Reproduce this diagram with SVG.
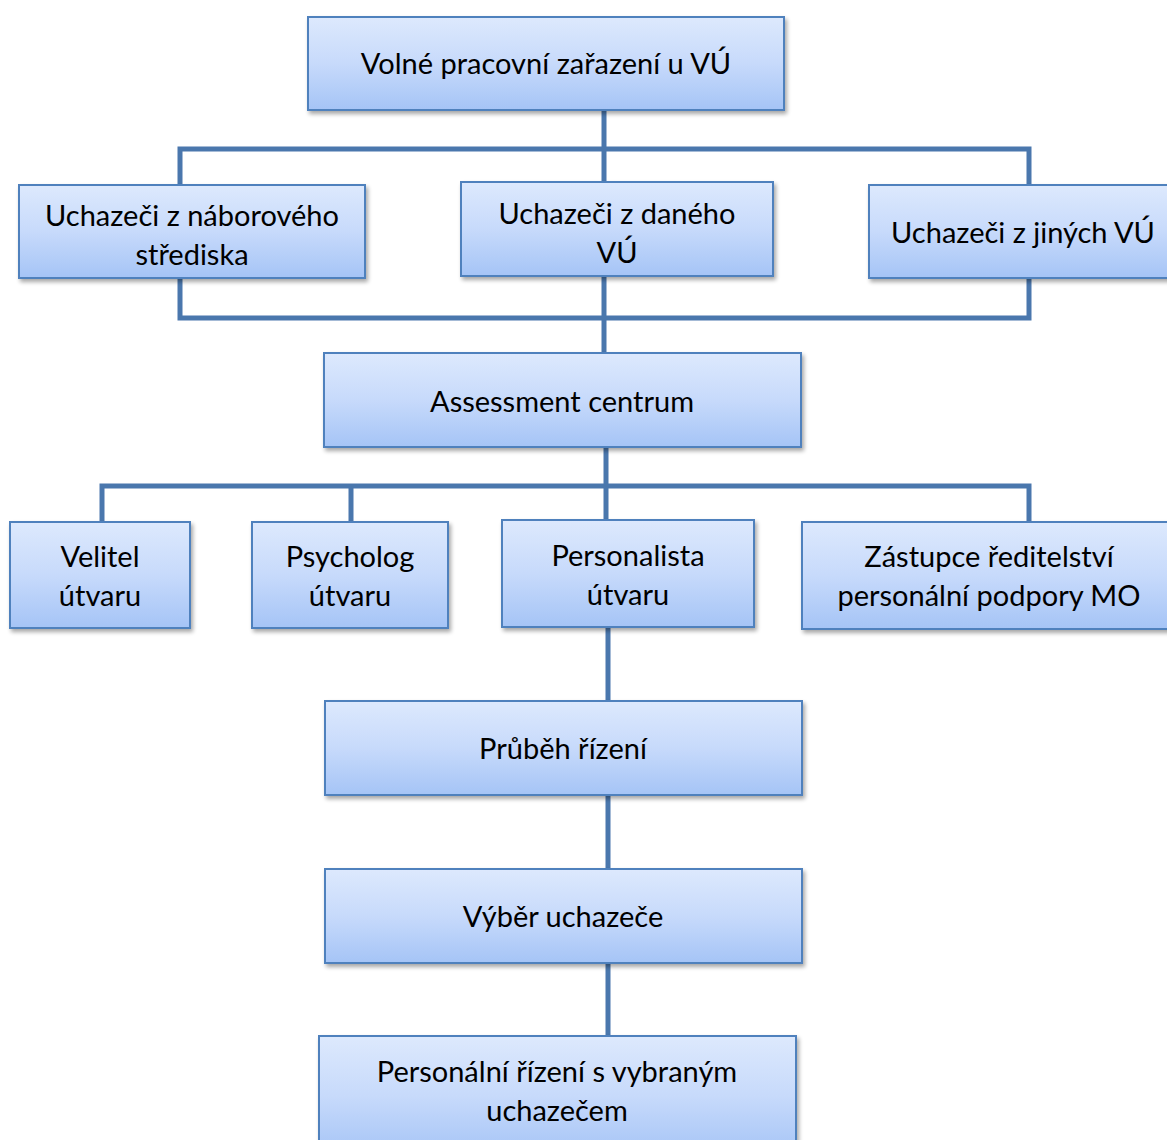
<svg xmlns="http://www.w3.org/2000/svg" width="1167" height="1140" viewBox="0 0 1167 1140">
<style>
.box{fill:url(#g);stroke:#4f81bd;stroke-width:2;filter:url(#sh)}
.t{font-family:Lato,"Open Sans","Liberation Sans",sans-serif;font-size:29px;fill:#000;text-anchor:middle;dominant-baseline:central}
.c{fill:none;stroke:#4a77ad;stroke-width:5;stroke-linejoin:miter}
</style>
<defs>
<linearGradient id="g" x1="0" y1="0" x2="0" y2="1">
<stop offset="0" stop-color="#dde9fd"/>
<stop offset="0.5" stop-color="#c7dafb"/>
<stop offset="1" stop-color="#a5c4f6"/>
</linearGradient>
<filter id="sh" x="-10%" y="-10%" width="120%" height="130%">
<feGaussianBlur in="SourceAlpha" stdDeviation="2"/>
<feOffset dx="2" dy="3" result="o"/>
<feComponentTransfer><feFuncA type="linear" slope="0.35"/></feComponentTransfer>
<feMerge><feMergeNode/><feMergeNode in="SourceGraphic"/></feMerge>
</filter>
</defs>
<g id="connectors">
<path class="c" d="M604 110V149M180 185V149H1029V185M604 149V183"/>
<path class="c" d="M180 278V318H1029V278M604 276V353"/>
<path class="c" d="M606 447V486M102 522V486H1029V522M351 486V522M606 486V520"/>
<path class="c" d="M608 627V701M608 795V869M608 963V1036"/>
</g>
<g id="n1"><rect class="box" x="308" y="17" width="476" height="93"/><text class="t" x="546" y="62">Volné pracovní zařazení u VÚ</text></g>
<g id="n2"><rect class="box" x="19" y="185" width="346" height="93"/><text class="t" x="192" y="214">Uchazeči z náborového</text><text class="t" x="192" y="253">střediska</text></g>
<g id="n3"><rect class="box" x="461" y="182" width="312" height="94"/><text class="t" x="617" y="212">Uchazeči z daného</text><text class="t" x="617" y="251">VÚ</text></g>
<g id="n4"><rect class="box" x="869" y="185" width="310" height="93"/><text class="t" x="1023" y="231">Uchazeči z jiných VÚ</text></g>
<g id="n5"><rect class="box" x="324" y="353" width="477" height="94"/><text class="t" x="562" y="400">Assessment centrum</text></g>
<g id="n6"><rect class="box" x="10" y="522" width="180" height="106"/><text class="t" x="100" y="555">Velitel</text><text class="t" x="100" y="594">útvaru</text></g>
<g id="n7"><rect class="box" x="252" y="522" width="196" height="106"/><text class="t" x="350" y="555">Psycholog</text><text class="t" x="350" y="594">útvaru</text></g>
<g id="n8"><rect class="box" x="502" y="520" width="252" height="107"/><text class="t" x="628" y="554">Personalista</text><text class="t" x="628" y="593">útvaru</text></g>
<g id="n9"><rect class="box" x="802" y="522" width="380" height="107"/><text class="t" x="989" y="555">Zástupce ředitelství</text><text class="t" x="989" y="594">personální podpory MO</text></g>
<g id="n10"><rect class="box" x="325" y="701" width="477" height="94"/><text class="t" x="563" y="747">Průběh řízení</text></g>
<g id="n11"><rect class="box" x="325" y="869" width="477" height="94"/><text class="t" x="563" y="915">Výběr uchazeče</text></g>
<g id="n12"><rect class="box" x="319" y="1036" width="477" height="120"/><text class="t" x="557" y="1070">Personální řízení s vybraným</text><text class="t" x="557" y="1109">uchazečem</text></g>
</svg>
